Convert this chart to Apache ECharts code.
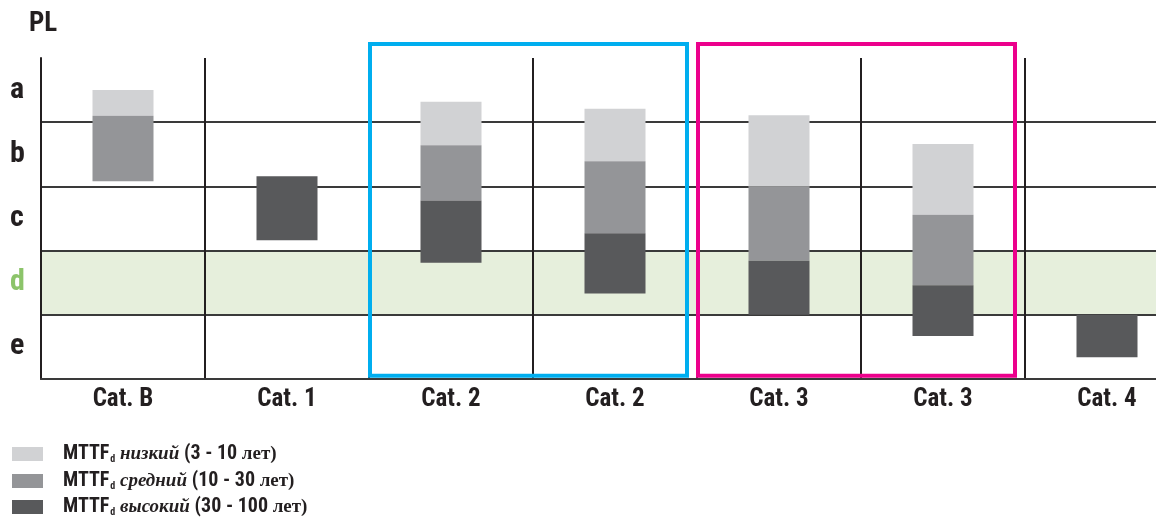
<!DOCTYPE html>
<html><head><meta charset="utf-8">
<script src="https://cdn.jsdelivr.net/npm/echarts@6/dist/echarts.min.js"></script>
<style>html,body{margin:0;padding:0;background:#fff}#c{width:1156px;height:518px}</style>
</head><body><div id="c"></div>
<script>
// ---- data ----
const categories = ['Cat. B', 'Cat. 1', 'Cat. 2', 'Cat. 2', 'Cat. 3', 'Cat. 3', 'Cat. 4'];
const plLevels = ['e', 'd', 'c', 'b', 'a'];
const seriesNames = ['MTTFd низкий (3 - 10 лет)', 'MTTFd средний (10 - 30 лет)', 'MTTFd высокий (30 - 100 лет)'];
const legendWords = ['низкий', 'средний', 'высокий'];
const legendRanges = ['(3 - 10 ', '(10 - 30 ', '(30 - 100 '];
// [low, high] on the PL scale (e: 0-1, d: 1-2, c: 2-3, b: 3-4, a: 4-5); null = no bar
const lowMttf    = [[4.10, 4.50], null, [3.64, 4.32], [3.39, 4.21], [3.00, 4.11], [2.56, 3.66], null];
const mediumMttf = [[3.08, 4.10], null, [2.78, 3.64], [2.27, 3.39], [1.84, 3.00], [1.46, 2.56], null];
const highMttf   = [null, [2.16, 3.16], [1.81, 2.78], [1.33, 2.27], [1.00, 1.84], [0.67, 1.46], [0.34, 1.00]];
// highlighted groups (category index ranges)
const boxes = [{ from: 2, to: 3, color: '#00aeef' }, { from: 4, to: 5, color: '#ec008c' }];
const boxRange = [0.05, 5.22];

// ---- chart ----
const NARROW = "'Roboto Condensed', 'Liberation Sans Narrow', 'Arial Narrow', 'DejaVu Sans Condensed', 'Roboto', sans-serif";
const SERIF = "'Liberation Serif', 'DejaVu Serif', serif";
const INK = '#231f20';
const colors = ['#d1d2d4', '#949598', '#58595b'];
const legendTops = [444, 471, 497];

function toData(arr) {
  const out = [];
  arr.forEach((r, i) => { if (r) out.push([i, r[0], r[1]]); });
  return out;
}
function renderItem(params, api) {
  const i = api.value(0);
  const p0 = api.coord([i, api.value(1)]);
  const p1 = api.coord([i, api.value(2)]);
  const w = 61;
  return { type: 'rect', shape: { x: p0[0] - w / 2, y: p1[1], width: w, height: p0[1] - p1[1] },
           style: { fill: api.visual('color') } };
}
const legendRich = {
  sp: { width: 15, height: 20 },
  m: { fontFamily: NARROW, fontWeight: 'bold', fontSize: 20, color: INK, lineHeight: 20, verticalAlign: 'bottom' },
  sub: { fontFamily: NARROW, fontWeight: 'bold', fontSize: 10, color: INK, lineHeight: 20, verticalAlign: 'bottom', padding: [0, 0, 0, 1] },
  it: { fontFamily: SERIF, fontWeight: 'bold', fontStyle: 'italic', fontSize: 19, color: INK, lineHeight: 20, verticalAlign: 'bottom' },
  s: { fontFamily: SERIF, fontWeight: 'bold', fontSize: 19, color: INK, lineHeight: 20, verticalAlign: 'bottom' }
};

const chart = echarts.init(document.getElementById('c'), null, { renderer: 'canvas' });
const rangesList = [lowMttf, mediumMttf, highMttf];
chart.setOption({
  animation: false,
  color: colors,
  title: { text: 'PL', left: 29, top: 11, padding: 0,
    textStyle: { fontFamily: NARROW, fontWeight: 'bold', fontSize: 27, color: INK } },
  grid: { left: 41, width: 1148, top: 58, height: 321, containLabel: false, outerBoundsMode: 'none' },
  legend: seriesNames.map((nm, i) => ({
    data: [nm], orient: 'vertical', left: 12, top: legendTops[i], icon: 'rect', padding: 0,
    itemWidth: 31, itemHeight: 14,
    formatter: function (name) {
      const k = seriesNames.indexOf(name);
      return '{sp|}{m|MTTF}{sub|d}{it| ' + legendWords[k] + ' }{m|' + legendRanges[k] + '}{s|лет)}';
    },
    textStyle: { color: INK, rich: legendRich }
  })),
  xAxis: {
    type: 'category', data: categories, z: 1,
    axisLine: { lineStyle: { color: '#3a3a3a', width: 2 } },
    axisTick: { show: false },
    axisLabel: { interval: 0, margin: 8, fontSize: 25, fontWeight: 'bold', fontFamily: NARROW, color: INK },
    splitLine: { show: true, interval: 0, lineStyle: { color: INK, width: 2 } }
  },
  yAxis: [{
    type: 'value', min: 0, max: 5, interval: 1,
    axisLine: { show: true, lineStyle: { color: INK, width: 2 } },
    axisTick: { show: false }, axisLabel: { show: false },
    splitLine: { show: true, showMinLine: false, showMaxLine: false, lineStyle: { color: '#3a3a3a', width: 2 } },
    splitArea: { show: true, areaStyle: { color: ['rgba(0,0,0,0)', '#e6efdc', 'rgba(0,0,0,0)', 'rgba(0,0,0,0)', 'rgba(0,0,0,0)'] } }
  }, {
    type: 'category', data: plLevels, position: 'left',
    axisLine: { show: false }, axisTick: { show: false }, splitLine: { show: false },
    axisLabel: { margin: 31, align: 'left', fontSize: 30, fontWeight: 'bold', fontFamily: NARROW,
      color: function (v) { return v === 'd' ? '#8cc46a' : INK; } }
  }],
  series: rangesList.map((arr, k) => ({
    name: seriesNames[k], type: 'custom', renderItem: renderItem, clip: false,
    xAxisIndex: 0, yAxisIndex: 0, encode: { x: 0, y: [1, 2] },
    itemStyle: { color: colors[k] }, data: toData(arr), z: 3
  }))
});

// highlight frames, positioned through the axes
const c0 = chart.convertToPixel({ xAxisIndex: 0 }, 0);
const c1 = chart.convertToPixel({ xAxisIndex: 0 }, 1);
const band = c1 - c0;
const yTop = chart.convertToPixel({ yAxisIndex: 0 }, boxRange[1]);
const yBot = chart.convertToPixel({ yAxisIndex: 0 }, boxRange[0]);
chart.setOption({
  graphic: boxes.map(b => {
    const l = chart.convertToPixel({ xAxisIndex: 0 }, b.from) - band / 2 + 1;
    const r = chart.convertToPixel({ xAxisIndex: 0 }, b.to) + band / 2 - 10;
    return { type: 'rect', z: 100, silent: true,
      shape: { x: l, y: yTop, width: r - l, height: yBot - yTop },
      style: { fill: 'none', stroke: b.color, lineWidth: 4 } };
  })
});
</script></body></html>
